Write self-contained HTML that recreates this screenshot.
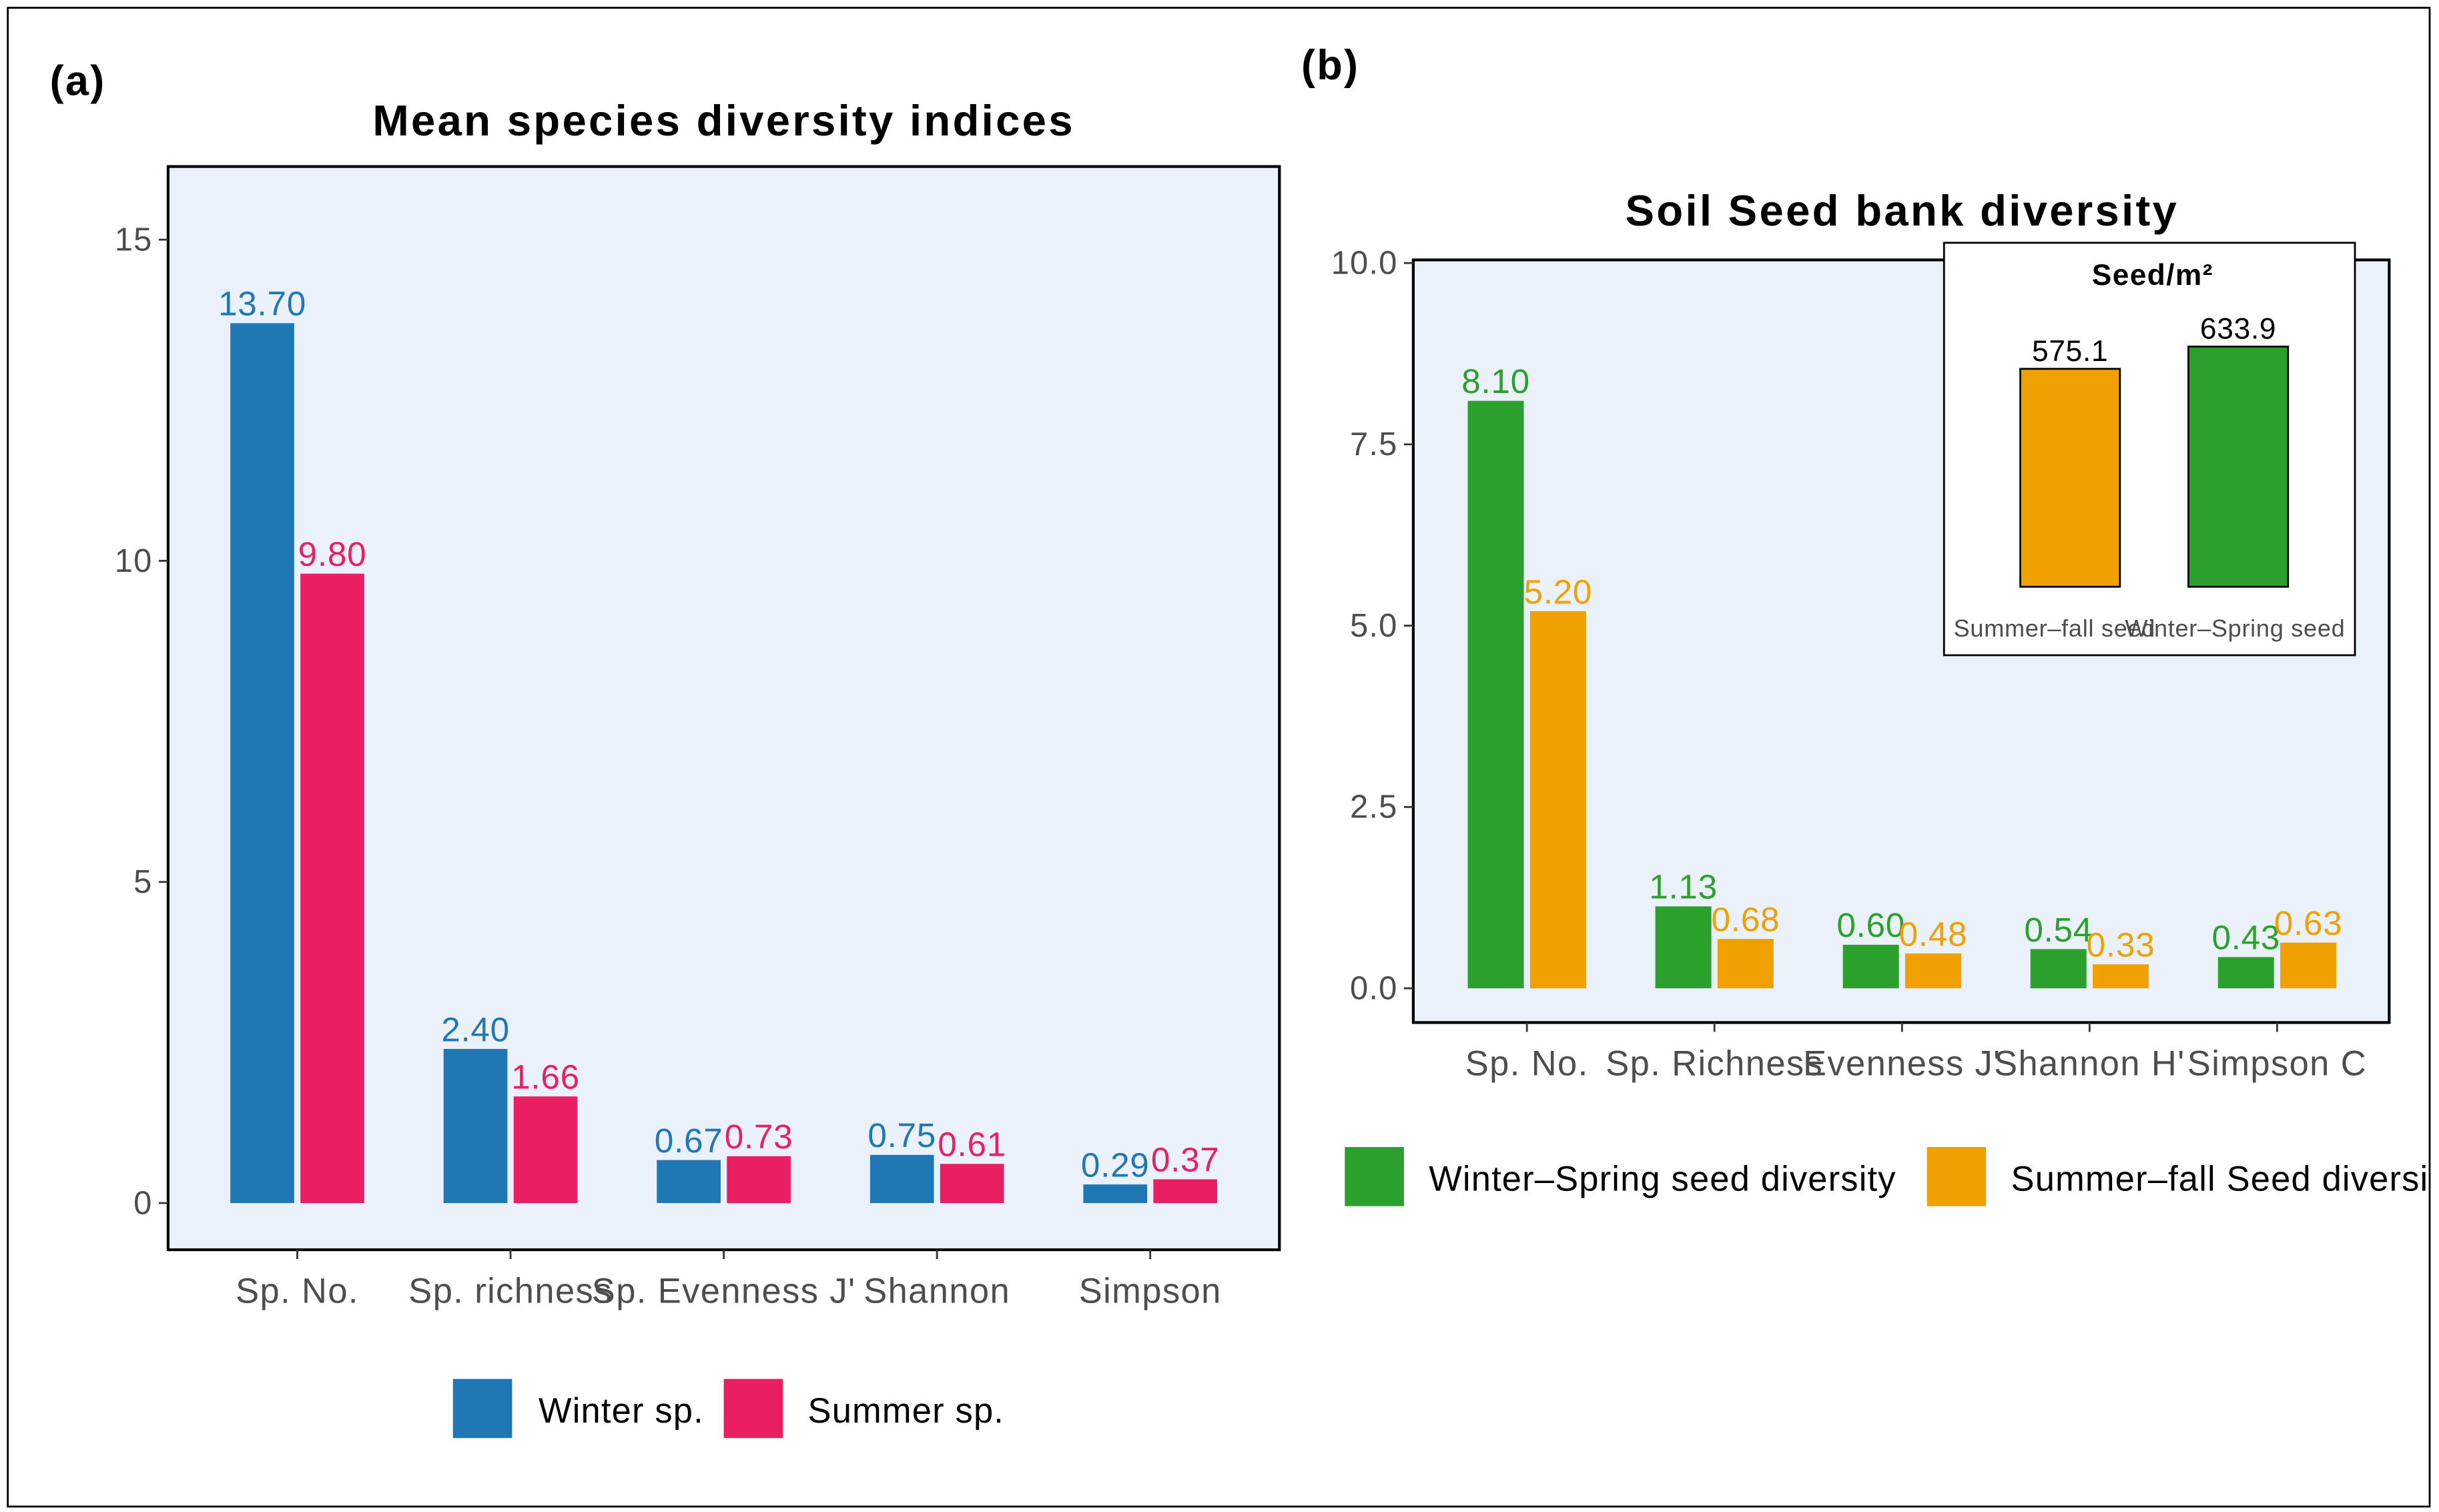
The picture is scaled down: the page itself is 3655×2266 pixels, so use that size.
<!DOCTYPE html>
<html><head><meta charset="utf-8"><style>html,body{margin:0;padding:0;background:#fff}svg{display:block}text{font-family:"Liberation Sans",sans-serif}</style></head>
<body>
<svg id="c" width="3655" height="2266" viewBox="0 0 1567 971.5" xmlns="http://www.w3.org/2000/svg">
<defs><clipPath id="clip"><rect x="5" y="5" width="1556" height="963"/></clipPath></defs>
<g clip-path="url(#clip)"><g id="ga"></g><g id="gb"></g></g>
<rect x="5" y="5" width="1556" height="963" fill="none" stroke="#000" stroke-width="1.2"/>
</svg>
<script>
const catsA = ["Sp. No.", "Sp. richness", "Sp. Evenness J'", "Shannon", "Simpson"];
const winterA = [13.70, 2.40, 0.67, 0.75, 0.29];
const summerA = [9.80, 1.66, 0.73, 0.61, 0.37];
const ticksA = [0, 5, 10, 15];
const catsB = ["Sp. No.", "Sp. Richness", "Evenness J'", "Shannon H'", "Simpson C"];
const winterB = [8.10, 1.13, 0.60, 0.54, 0.43];
const summerB = [5.20, 0.68, 0.48, 0.33, 0.63];
const ticksB = [0.0, 2.5, 5.0, 7.5, 10.0];
const insetCats = ["Summer\u2013fall seed", "Winter\u2013Spring seed"];
const insetVals = [575.1, 633.9];

const NS = "http://www.w3.org/2000/svg";
function mk(parent, tag, attrs, txt) {
  const e = document.createElementNS(NS, tag);
  for (const k in attrs) e.setAttribute(k, attrs[k]);
  if (txt !== undefined) e.textContent = txt;
  parent.appendChild(e);
  return e;
}

function panel(g, o) {
  let e;
  e = mk(g, "text", {x: o.tagX, y: o.tagY, "font-size": 27, "font-weight": "bold", "letter-spacing": 1}, o.tag);
  
  
  e = mk(g, "text", {x: o.titleX, y: o.titleY, "font-size": 28, "font-weight": "bold", "text-anchor": "middle", "letter-spacing": 1.4}, o.title);
  
  
  e = mk(g, "rect", {x: o.x0, y: o.y0, width: o.x1 - o.x0, height: o.y1 - o.y0, fill: "#EAF1FA", stroke: "#000", "stroke-width": 1.8});
  
  
  const y = v => o.zeroY - (v - 0) * o.pxPerUnit;
  o.ticks.forEach(t => {
    e = mk(g, "line", {x1: o.x0 - 6, x2: o.x0, y1: y(t), y2: y(t), stroke: "#333", "stroke-width": 1.2});
    
    
    e = mk(g, "text", {x: o.x0 - 10, y: y(t) + 7, "font-size": 21, fill: "#4d4d4d", "text-anchor": "end", "letter-spacing": 0.5}, o.fmt(t));
    
    
  });
  const x = i => o.cx0 + i * o.step;
  o.cats.forEach((c, i) => {
    const cx = x(i);
    e = mk(g, "line", {x1: cx, x2: cx, y1: o.y1, y2: o.y1 + 6, stroke: "#333", "stroke-width": 1.2});
    
    
    e = mk(g, "text", {x: cx, y: o.y1 + 34, "font-size": 22.5, fill: "#4d4d4d", "text-anchor": "middle", "letter-spacing": 0.6}, c);
    
    
    [[o.s1, o.c1, cx - o.bw - 2], [o.s2, o.c2, cx + 2]].forEach(([s, col, bx], k) => {
      const v = s[i];
      e = mk(g, "rect", {x: bx, y: y(v), width: o.bw, height: y(0) - y(v), fill: col});
      
      
      e = mk(g, "text", {x: bx + o.bw / 2, y: y(v) - 5, "font-size": 22, fill: col, "text-anchor": "middle", "letter-spacing": 0.3}, v.toFixed(2));
      
      
    });
  });
  o.legend.forEach(l => {
    e = mk(g, "rect", {x: l.x, y: l.y, width: 38, height: 38, fill: l.col});
    
    
    e = mk(g, "text", {x: l.tx, y: l.y + 28, "font-size": 22.5, fill: "#000", "letter-spacing": 0.5}, l.label);
    
    
  });
}

panel(document.getElementById("ga"), {
  tag: "(a)", tagX: 32, tagY: 61, title: "Mean species diversity indices", titleX: 465, titleY: 87,
  x0: 108, x1: 822, y0: 107, y1: 803, zeroY: 773, pxPerUnit: (773 - 154) / 15,
  ticks: ticksA, fmt: t => String(t), cats: catsA, cx0: 191, step: 137, bw: 41,
  s1: winterA, s2: summerA, c1: "#1F77B4", c2: "#E91E63",
  legend: [{x: 291, y: 886, col: "#1F77B4", tx: 346, label: "Winter sp."},
           {x: 465, y: 886, col: "#E91E63", tx: 519, label: "Summer sp."}]
});
panel(document.getElementById("gb"), {
  tag: "(b)", tagX: 836, tagY: 51, title: "Soil Seed bank diversity", titleX: 1222, titleY: 145,
  x0: 908, x1: 1535, y0: 167, y1: 657, zeroY: 635, pxPerUnit: (635 - 169) / 10,
  ticks: ticksB, fmt: t => t.toFixed(1), cats: catsB, cx0: 981, step: 120.5, bw: 36,
  s1: winterB, s2: summerB, c1: "#2CA02C", c2: "#F0A000",
  legend: [{x: 864, y: 737, col: "#2CA02C", tx: 918, label: "Winter\u2013Spring seed diversity"},
           {x: 1238, y: 737, col: "#F0A000", tx: 1292, label: "Summer\u2013fall Seed diversity"}]
});

// inset
const gb = document.getElementById("gb");
let e = mk(gb, "rect", {x: 1249, y: 156, width: 264, height: 265, fill: "#fff", stroke: "#000", "stroke-width": 1.2});


e = mk(gb, "text", {x: 1383, y: 183, "font-size": 19, "font-weight": "bold", "text-anchor": "middle", "letter-spacing": 0.6}, "Seed/m\u00B2");


const insetCols = ["#F0A000", "#2CA02C"];
const insetX = [1330, 1438];
const iy = v => 377 - v * (140 / 575.1);
insetVals.forEach((v, i) => {
  e = mk(gb, "rect", {x: insetX[i] - 32, y: iy(v), width: 64, height: 377 - iy(v), fill: insetCols[i], stroke: "#000", "stroke-width": 1.2});
  
  
  e = mk(gb, "text", {x: insetX[i], y: iy(v) - 5, "font-size": 19, "text-anchor": "middle", "letter-spacing": 0.3}, v.toFixed(1));
  
  
  e = mk(gb, "text", {x: insetX[i] - 10 + i * 8, y: 409, "font-size": 15.5, fill: "#4d4d4d", "text-anchor": "middle", "letter-spacing": 0.3}, insetCats[i]);
  
  
});
</script>
</body></html>
